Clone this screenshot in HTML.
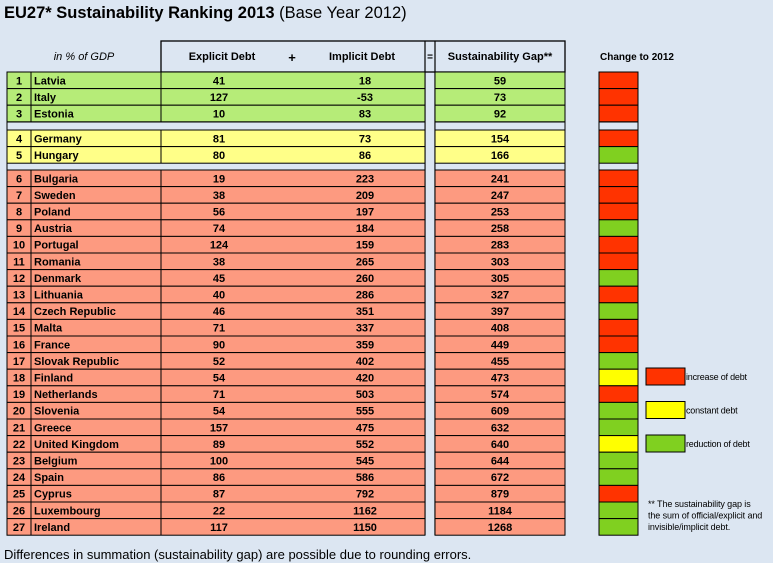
<!DOCTYPE html>
<html><head><meta charset="utf-8"><style>
body{margin:0;background:#dce6f2;}
svg{display:block;font-family:"Liberation Sans",Arial,sans-serif;}
</style></head><body>
<svg id="c" width="773" height="563" viewBox="0 0 773 563">
<rect width="773" height="563" fill="#dce6f2"/>
<text x="4" y="18" font-size="16.5" font-weight="bold" fill="#000">EU27* Sustainability Ranking 2013 <tspan font-weight="normal">(Base Year 2012)</tspan></text>
<text x="4" y="559" font-size="13" fill="#000">Differences in summation (sustainability gap) are possible due to rounding errors.</text>
<g id="tbl"></g>
</svg>
<script>
const countries=["Latvia","Italy","Estonia","Germany","Hungary","Bulgaria","Sweden","Poland","Austria","Portugal","Romania","Denmark","Lithuania","Czech Republic","Malta","France","Slovak Republic","Finland","Netherlands","Slovenia","Greece","United Kingdom","Belgium","Spain","Cyprus","Luxembourg","Ireland"];
const explicitDebt=[41,127,10,81,80,19,38,56,74,124,38,45,40,46,71,90,52,54,71,54,157,89,100,86,87,22,117];
const implicitDebt=[18,-53,83,73,86,223,209,197,184,159,265,260,286,351,337,359,402,420,503,555,475,552,545,586,792,1162,1150];
const sustainabilityGap=[59,73,92,154,166,241,247,253,258,283,303,305,327,397,408,449,455,473,574,609,632,640,644,672,879,1184,1268];
const change=["R","R","R","R","G","R","R","R","G","R","R","G","R","G","R","R","G","Y","R","G","G","Y","G","G","R","G","G"];
const NS="http://www.w3.org/2000/svg";
const g=document.getElementById('tbl');
function el(t,a,txt){const e=document.createElementNS(NS,t);for(const k in a)e.setAttribute(k,a[k]);if(txt!==undefined)e.textContent=txt;g.appendChild(e);return e;}
const rowFill=i=>i<3?"#b6ec78":(i<5?"#ffff88":"#fd9a80");
const chFill={R:"#ff3300",G:"#80d020",Y:"#ffff00"};
const RH=16.6;
function rowY(i){if(i<3)return 72+i*RH;if(i<5)return 130+(i-3)*RH;return 170+(i-5)*RH;}
let h=el('rect',{x:161,y:41,width:404,height:31,fill:"none",stroke:"#000","stroke-width":1.3});

el('line',{x1:425,y1:41,x2:425,y2:535,stroke:"#000","stroke-width":1.2});
el('line',{x1:435,y1:41,x2:435,y2:535,stroke:"#000","stroke-width":1.2});
let t;
t=el('text',{x:84,y:60,"font-size":11,"font-style":"italic","text-anchor":"middle"},"in % of GDP");
t=el('text',{x:222,y:60,"font-size":11,"font-weight":"bold","text-anchor":"middle"},"Explicit Debt");
el('text',{x:292,y:62,"font-size":13,"font-weight":"bold","text-anchor":"middle"},"+");
t=el('text',{x:362,y:60,"font-size":11,"font-weight":"bold","text-anchor":"middle"},"Implicit Debt");
el('text',{x:430,y:60,"font-size":10,"font-weight":"bold","text-anchor":"middle"},"=");
t=el('text',{x:500,y:60,"font-size":11,"font-weight":"bold","text-anchor":"middle"},"Sustainability Gap**");
t=el('text',{x:637,y:60,"font-size":10,"font-weight":"bold","text-anchor":"middle"},"Change to 2012");
[[122,130],[163,170]].forEach(([a,b])=>{
 el('rect',{x:7,y:a,width:418,height:b-a,fill:"#dce6f2",stroke:"#000","stroke-width":1});
 el('rect',{x:435,y:a,width:130,height:b-a,fill:"#dce6f2",stroke:"#000","stroke-width":1});
 el('rect',{x:599,y:a,width:39,height:b-a,fill:"#dce6f2",stroke:"#000","stroke-width":1});
});
for(let i=0;i<countries.length;i++){
 const y=rowY(i),f=rowFill(i);
 let r=el('rect',{x:7,y:y,width:418,height:RH,fill:f,stroke:"#000","stroke-width":1});
 
 
 el('rect',{x:435,y:y,width:130,height:RH,fill:f,stroke:"#000","stroke-width":1});
 el('line',{x1:31,y1:y,x2:31,y2:y+RH,stroke:"#000","stroke-width":1});
 el('line',{x1:161,y1:y,x2:161,y2:y+RH,stroke:"#000","stroke-width":1});
 const ty=y+12.3;
 el('text',{x:19,y:ty,"font-size":11,"font-weight":"bold","text-anchor":"middle"},String(i+1));
 el('text',{x:34,y:ty,"font-size":11,"font-weight":"bold"},countries[i]);
 el('text',{x:219,y:ty,"font-size":11,"font-weight":"bold","text-anchor":"middle"},String(explicitDebt[i]));
 el('text',{x:365,y:ty,"font-size":11,"font-weight":"bold","text-anchor":"middle"},String(implicitDebt[i]));
 el('text',{x:500,y:ty,"font-size":11,"font-weight":"bold","text-anchor":"middle"},String(sustainabilityGap[i]));
 let c=el('rect',{x:599,y:y,width:39,height:RH,fill:chFill[change[i]],stroke:"#000","stroke-width":1});
 
 
}
const legLabels=["increase of debt","constant debt","reduction of debt"],legKeys=["R","Y","G"];
for(let k=0;k<3;k++){
 const y=368+k*33.5;
 let b=el('rect',{x:646,y:y,width:39,height:17,fill:chFill[legKeys[k]],stroke:"#000","stroke-width":1});
 
 
 let lt=el('text',{x:686,y:y+12,"font-size":9,"letter-spacing":-0.2},legLabels[k]);
 
 
}
["** The sustainability gap is","the sum of official/explicit and","invisible/implicit debt."].forEach((s,k)=>{
 let n=el('text',{x:648,y:507+k*11.5,"font-size":9,"letter-spacing":-0.1},s);
 
 
});
</script>
</body></html>
